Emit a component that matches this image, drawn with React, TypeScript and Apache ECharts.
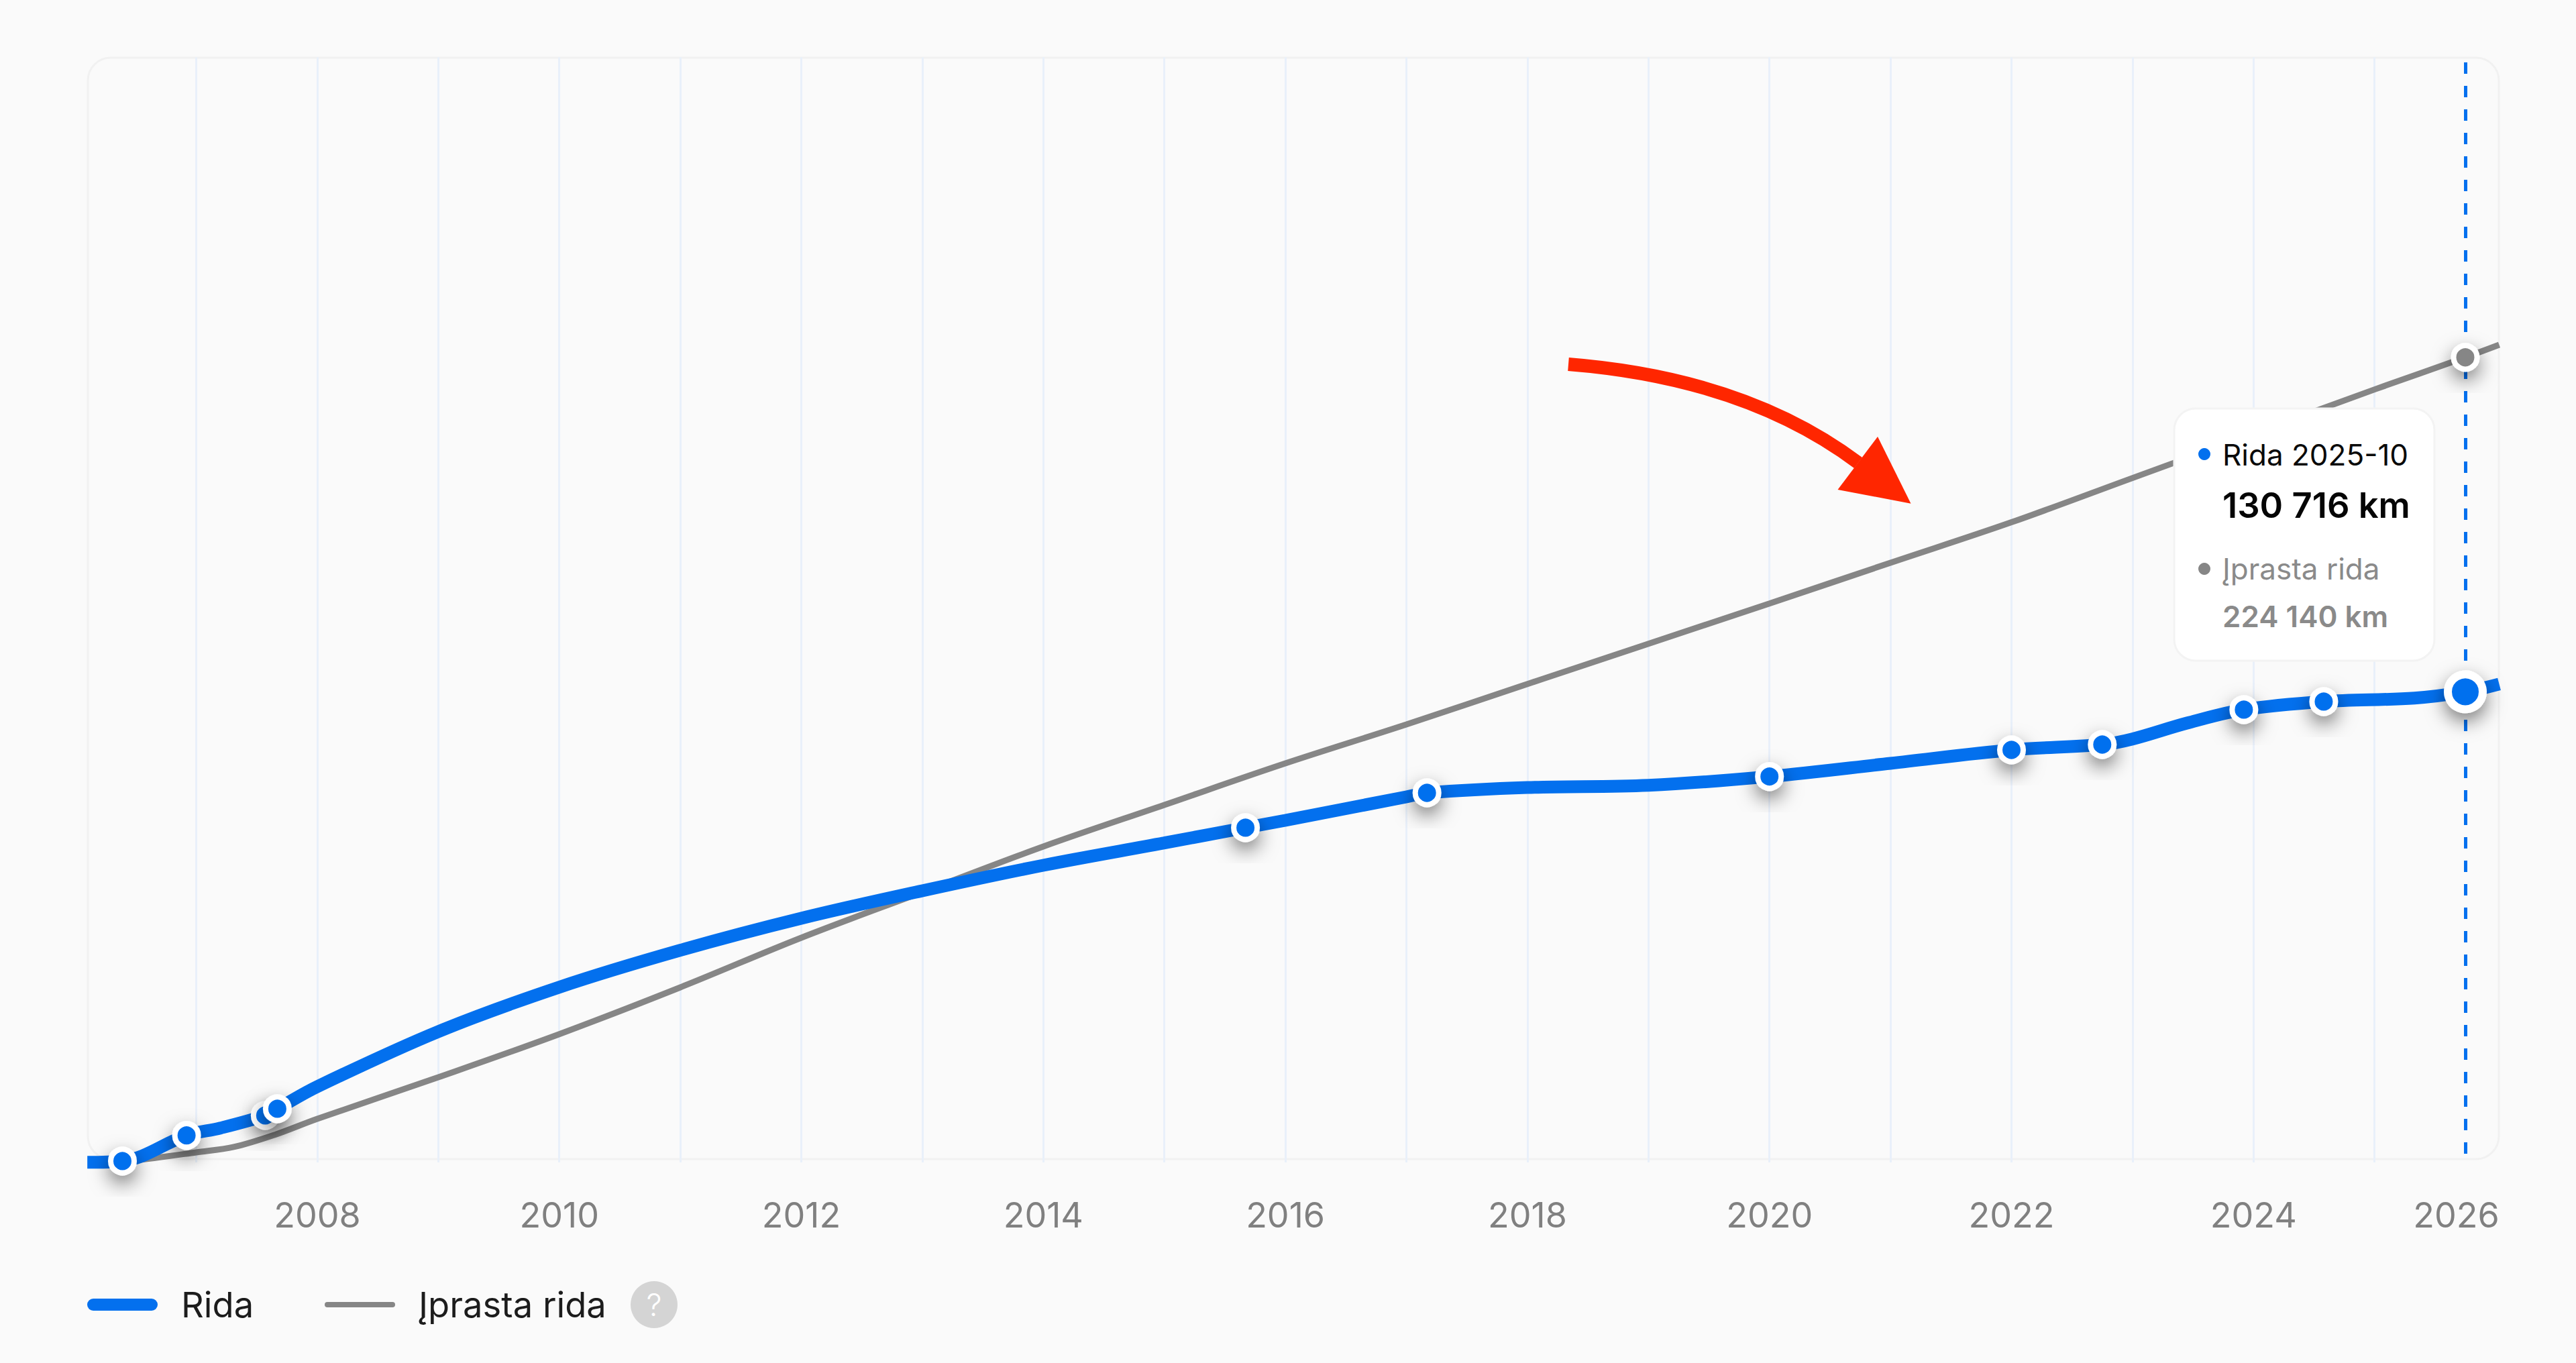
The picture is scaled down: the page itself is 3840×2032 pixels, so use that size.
import React, { useEffect, useRef } from "react";
import * as echarts from "echarts";

const BLUE = "#0370EE";
const GRAY = "#868686";
const FONT = "Inter";

const labelYears = [2008, 2010, 2012, 2014, 2016, 2018, 2020, 2022, 2024, 2026];
const gridYears = [2007, 2008, 2009, 2010, 2011, 2012, 2013, 2014, 2015, 2016, 2017, 2018, 2019, 2020, 2021, 2022, 2023, 2024, 2025];
const currentYear = 2025.75;

const ridaYears = [2006.1, 2006.39, 2006.92, 2007.2, 2007.57, 2007.67, 2008, 2009, 2010, 2011, 2012, 2013, 2014, 2015, 2015.67, 2016, 2017, 2017.17, 2018, 2019, 2020, 2021, 2022, 2022.75, 2023, 2023.45, 2023.92, 2024.58, 2025.33, 2025.75, 2026.03];
const ridaValues = [-720, -375, 6800, 8860, 12370, 14240, 20420, 35790, 48210, 58520, 67450, 75140, 82260, 88500, 92750, 94810, 101370, 102490, 103990, 104610, 107050, 110740, 114480, 115980, 117540, 121980, 125730, 127980, 128970, 130716, 132870];
const ridaReadings = [2006.39, 2006.92, 2007.57, 2007.67, 2015.67, 2017.17, 2020, 2022, 2022.75, 2023.92, 2024.58];

const iprastaYears = [2006.39, 2006.54, 2007, 2007.31, 2007.65, 2008, 2009, 2010, 2011, 2012, 2013, 2014, 2015, 2016, 2017, 2018, 2019, 2020, 2021, 2022, 2023, 2024, 2025, 2025.75, 2026.03];
const iprastaValues = [-375, 0, 2060, 3560, 6990, 11430, 23050, 35090, 48160, 62020, 74760, 87500, 99120, 110730, 121600, 132900, 144140, 155380, 166760, 178080, 190440, 202800, 215170, 224140, 227650];

const SHADOW = { shadowBlur: 28, shadowOffsetY: 12, shadowColor: "rgba(0,0,0,0.5)" };

function marker(color: string, big: boolean) {
  return {
    symbol: "circle",
    symbolSize: big ? 52 : 35,
    itemStyle: { color, borderColor: "#fff", borderWidth: big ? 12 : 8, ...SHADOW },
  };
}

function guide(x: number, y0: number, y1: number) {
  return [{ coord: [x, y0] }, { coord: [x, y1] }];
}

function text(t: string, x: number, y: number, size: number, weight: number, fill: string, z = 101) {
  return {
    type: "text",
    x,
    y,
    z,
    silent: true,
    style: { text: t, fontFamily: FONT, fontSize: size, fontWeight: weight, fill, align: "left", verticalAlign: "middle" },
  };
}

function legendFor(name: string, left: number, color: string, w: number, h: number, icon: string) {
  return {
    data: [name],
    left,
    top: 1915,
    orient: "horizontal",
    selectedMode: false,
    padding: 0,
    itemWidth: w,
    itemHeight: h,
    icon,
    itemStyle: { color, borderWidth: 0, shadowBlur: 0, shadowOffsetY: 0, shadowColor: "transparent" },
    lineStyle: { width: 0 },
    textStyle: { fontFamily: FONT, fontSize: 52.5, color: "#1c1c1c", padding: [0, 0, 0, 30], lineHeight: 60 },
  };
}

export default function App() {
  const ref = useRef<HTMLDivElement>(null);
  useEffect(() => {
    const chart = echarts.init(ref.current!, undefined, { renderer: "svg" });
    chart.setOption({
      animation: false,
      backgroundColor: "#FAFAFA",
      grid: { left: 130, width: 3595.5, top: 85.2, height: 1675.8, containLabel: false },
      xAxis: {
        type: "value",
        min: 2006.099,
        max: 2026.03,
        axisLine: { show: false },
        axisTick: { show: false },
        splitLine: { show: false },
        axisLabel: {
          customValues: labelYears,
          margin: 24,
          fontFamily: FONT,
          fontSize: 52,
          color: "#808080",
          formatter: (v: number) => (v === 2026 ? `{end|${v}}` : String(v)),
          rich: { end: { fontFamily: FONT, fontSize: 52, color: "#808080", padding: [0, 117, 0, 0] } },
        },
      },
      yAxis: { type: "value", show: false, min: -6000, max: 308000 },
      legend: [
        legendFor("Rida", 130, BLUE, 105, 18, "path://M9 0H96A9 9 0 0 1 96 18H9A9 9 0 0 1 9 0Z"),
        legendFor("Įprasta rida", 484, GRAY, 105, 8, "path://M4 0H101A4 4 0 0 1 101 8H4A4 4 0 0 1 4 0Z"),
      ],
      series: [
        {
          name: "guides",
          type: "line",
          z: 1,
          data: [],
          markLine: {
            silent: true,
            z: 1,
            symbol: "none",
            label: { show: false },
            emphasis: { disabled: true },
            lineStyle: { color: "#E9F0FA", width: 3, type: "solid" },
            data: [
              ...gridYears.map((y) => guide(y, -750, 308000)),
              [
                { coord: [currentYear, 1686], lineStyle: { color: BLUE, width: 5, type: [17, 18] } },
                { coord: [currentYear, 307000] },
              ],
            ],
          },
        },
        {
          name: "Įprasta rida",
          type: "line",
          z: 3,
          smooth: 0.35,
          showAllSymbol: true,
          lineStyle: { color: GRAY, width: 9 },
          itemStyle: { color: GRAY },
          data: iprastaYears.map((y, i) => ({
            value: [y, iprastaValues[i]],
            ...(y === currentYear ? marker(GRAY, false) : { symbol: "none" }),
          })),
        },
        {
          name: "Rida",
          type: "line",
          z: 4,
          smooth: 0.35,
          showAllSymbol: true,
          lineStyle: { color: BLUE, width: 19 },
          itemStyle: { color: BLUE },
          data: ridaYears.map((y, i) => ({
            value: [y, ridaValues[i]],
            ...(y === currentYear
              ? marker(BLUE, true)
              : ridaReadings.includes(y)
                ? marker(BLUE, false)
                : { symbol: "none" }),
          })),
        },
      ],
      graphic: [
        {
          type: "rect",
          z: 0,
          silent: true,
          shape: { x: 131, y: 86, width: 3594, height: 1642, r: 34 },
          style: { fill: "none", stroke: "#F1F1F1", lineWidth: 3 },
        },
        {
          type: "bezierCurve",
          z: 90,
          silent: true,
          shape: { x1: 2338, y1: 543, x2: 2770, y2: 690, cpx1: 2602, cpy1: 564 },
          style: { fill: "none", stroke: "#FF2600", lineWidth: 20 },
        },
        {
          type: "polygon",
          z: 90,
          silent: true,
          shape: { points: [[2799, 651], [2848.5, 750.7], [2739.5, 730]] },
          style: { fill: "#FF2600" },
        },
        {
          type: "rect",
          z: 100,
          silent: true,
          shape: { x: 3241, y: 609, width: 388, height: 376, r: 32 },
          style: { fill: "#FFFFFF", stroke: "#F3F3F3", lineWidth: 3 },
        },
        { type: "circle", z: 101, silent: true, shape: { cx: 3286, cy: 677, r: 9 }, style: { fill: BLUE } },
        text("Rida 2025-10", 3313, 678, 44, 400, "#0a0a0a"),
        text("130 716 km", 3313, 753, 52.5, 600, "#050505"),
        { type: "circle", z: 101, silent: true, shape: { cx: 3286, cy: 848, r: 9 }, style: { fill: GRAY } },
        text("Įprasta rida", 3313, 848, 44, 400, "#8a8a8a"),
        text("224 140 km", 3313, 919, 44, 600, "#8a8a8a"),
        { type: "circle", z: 5, silent: true, shape: { cx: 975, cy: 1945, r: 35 }, style: { fill: "#D4D4D4" } },
        {
          type: "text",
          x: 975,
          y: 1945,
          z: 6,
          silent: true,
          style: { text: "?", fontFamily: FONT, fontSize: 46, fontWeight: 300, fill: "#FFFFFF", align: "center", verticalAlign: "middle" },
        },
      ],
    });
    return () => chart.dispose();
  }, []);
  return <div ref={ref} style={{ position: "fixed", left: 0, top: 0, width: 3840, height: 2032, background: "#FAFAFA" }} />;
}
